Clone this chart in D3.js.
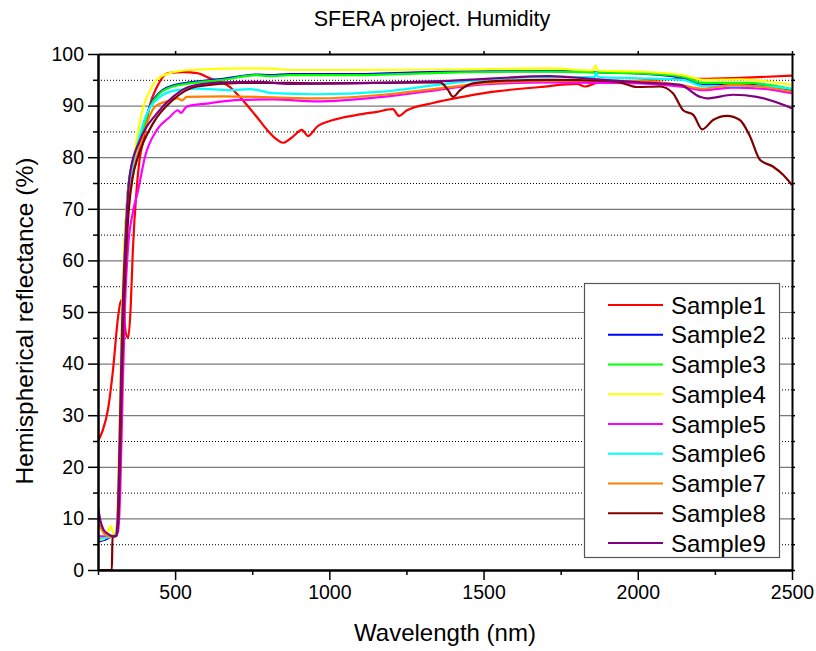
<!DOCTYPE html>
<html>
<head>
<meta charset="utf-8">
<script src="https://cdn.jsdelivr.net/npm/d3@7"></script>
<style>
  body { margin: 0; background: #fff; }
  svg { display: block; font-family: "Liberation Sans", Arial, sans-serif; }
</style>
</head>
<body>
<svg id="chart" width="816" height="651"></svg>
<script>
// ---- data (wavelength nm, reflectance %) ----
const seriesNames = ["Sample1", "Sample2", "Sample3", "Sample4", "Sample5", "Sample6", "Sample7", "Sample8", "Sample9"];
const seriesColors = ["#ff0000", "#0000ff", "#00ff00", "#ffff00", "#ff00ff", "#00ffff", "#ff8000", "#800000", "#800080"];

const sample1 = [[250,25],[265,27],[282,31],[299,39],[315,49],[325,52.3],[333,50],[340,46],[348,45],[356,51],[363,62],[375,73.6],[386,80],[396,83],[418,90],[441,93.6],[477,96.3],[526,96.5],[571,96.3],[613,95.3],[678,93.6],[720,91],[765,87.8],[798,85.3],[824,83.7],[850,82.8],[882,84],[911,85.3],[931,84.1],[960,85.9],[1012,87.2],[1090,88.2],[1154,88.8],[1206,89.3],[1226,88],[1252,89.1],[1336,90.5],[1433,91.7],[1521,92.6],[1683,93.6],[1803,94.2],[1829,93.7],[1868,94.4],[1942,94.6],[2137,95.2],[2224,95.2],[2386,95.5],[2500,95.8]];
const sample2 = [[250,5.5],[270,5.8],[290,6.4],[305,6.8],[313,9],[320,22],[328,45],[336,62],[345,72],[360,78.5],[386,83.5],[419,90],[451,92.6],[493,93.9],[548,94.5],[655,95.2],[765,96],[808,95.9],[872,96.1],[1067,96.1],[1391,96.6],[1715,96.7],[1900,96.4],[2062,96],[2147,95.3],[2212,94],[2354,94],[2500,93]];
const sample3 = [[250,6],[270,6.2],[290,6.6],[305,6.8],[313,9],[320,22],[328,45],[336,62],[345,72],[360,78.5],[386,83.3],[419,89.8],[451,92.4],[493,93.7],[548,94.3],[655,95],[765,95.9],[808,95.7],[872,95.9],[1067,95.9],[1391,96.4],[1715,96.6],[1900,96.4],[2062,96.1],[2147,95.6],[2212,94.4],[2354,94.4],[2500,93.2]];
const sample4 = [[250,5.8],[270,6],[283,7.5],[292,8.5],[300,7],[306,6.8],[312,10],[318,24],[326,47],[335,63],[345,72],[359,77],[375,83.3],[397,89.8],[419,93],[440,95],[483,96.3],[548,96.9],[710,97.2],[800,97.2],[872,96.9],[1067,96.9],[1391,97],[1715,97.2],[1855,96.8],[1862,97.8],[1870,96.8],[2007,96.6],[2147,95.9],[2212,95],[2331,95.1],[2500,94]];
const sample5 = [[250,6.5],[280,6.5],[305,6.6],[315,7.5],[322,15],[330,35],[338,52],[348,63],[362,69],[380,73.6],[402,80],[441,85.3],[483,87.8],[509,89.1],[519,88.6],[538,89.8],[603,90.4],[710,91.1],[817,91.2],[960,90.8],[1174,91.7],[1349,93],[1498,94.1],[1715,94.5],[1868,94.4],[2007,94.3],[2147,93.6],[2212,93],[2309,93.5],[2400,93.3],[2500,92.4]];
const sample6 = [[250,6],[280,6.3],[305,6.7],[313,9],[320,22],[328,44],[336,60],[345,70],[360,77],[397,86.6],[451,91.7],[506,93],[571,93.3],[678,93],[743,93.2],[817,92.4],[960,92.2],[1174,92.7],[1349,94],[1498,95],[1715,95.5],[1860,95.5],[1865,96.4],[1872,95.5],[2007,95.3],[2147,95],[2212,93.8],[2354,93.8],[2500,93.3]];
const sample7 = [[250,9.3],[265,7.5],[280,6.6],[300,6.4],[310,7],[316,12],[323,28],[331,48],[340,62],[350,71],[365,77],[390,83],[435,89.8],[483,91],[509,91.4],[522,91],[538,91.7],[655,91.8],[817,91.6],[960,91.4],[1174,92.1],[1349,93.3],[1498,94.3],[1715,94.8],[2007,94.8],[2137,94],[2212,93.3],[2309,94],[2396,93.7],[2500,92.7]];
const sample8 = [[250,0],[295,0],[297,6.5],[310,6.6],[316,10],[323,26],[331,46],[340,60],[350,70],[362,76],[380,80.1],[429,86.6],[493,91.1],[571,93.7],[710,94.4],[872,94.4],[960,94.3],[1174,94.4],[1359,94.5],[1385,93],[1401,91.7],[1424,93],[1466,94.3],[1553,94.8],[1715,95],[1900,94.8],[1942,94.5],[1997,93.6],[2072,93.7],[2114,92.4],[2147,89.1],[2180,88.2],[2209,85.4],[2244,87.2],[2289,88],[2331,87.2],[2364,84],[2396,79.5],[2438,78.2],[2471,76.6],[2500,74.6]];
const sample9 = [[250,12.2],[258,9.5],[268,7.8],[282,7],[300,6.5],[308,6.6],[313,9],[320,25],[328,47],[338,63],[354,76.9],[386,83.3],[441,88.5],[493,91.7],[548,93.7],[655,94.5],[765,94.6],[872,94.2],[1067,94.3],[1391,94.8],[1715,95.7],[1845,95.2],[2007,94.5],[2137,94],[2202,91.7],[2224,91.4],[2309,92.1],[2386,91.7],[2500,89.5]];
const allSamples = [sample1, sample2, sample3, sample4, sample5, sample6, sample7, sample8, sample9];

const xMajorTicks = [500, 1000, 1500, 2000, 2500];
const xMinorTicks = [250, 750, 1250, 1750, 2250];
const yMajorTicks = [0, 10, 20, 30, 40, 50, 60, 70, 80, 90, 100];
const yMinorTicks = [5, 15, 25, 35, 45, 55, 65, 75, 85, 95];

// ---- layout ----
const plotL = 98, plotR = 792, plotT = 54, plotB = 570;
const svg = d3.select("#chart");

const x = d3.scaleLinear().domain([250, 2500]).range([plotL, plotR]);
const y = d3.scaleLinear().domain([0, 100]).range([plotB, plotT]);

svg.append("defs").append("clipPath").attr("id", "plot-clip")
  .append("rect").attr("x", plotL).attr("y", plotT - 2)
  .attr("width", plotR - plotL).attr("height", plotB - plotT + 2);

// grid: solid at major, dotted at minor
svg.append("g").selectAll("line").data(yMajorTicks.filter(d => d > 0 && d < 100)).join("line")
  .attr("x1", plotL).attr("x2", plotR)
  .attr("y1", d => y(d) + 0.5).attr("y2", d => y(d) + 0.5)
  .attr("stroke", "#7a7a7a").attr("stroke-width", 1.2);
svg.append("g").selectAll("line").data(yMinorTicks).join("line")
  .attr("x1", plotL).attr("x2", plotR)
  .attr("y1", d => y(d) + 0.5).attr("y2", d => y(d) + 0.5)
  .attr("stroke", "#000").attr("stroke-width", 1)
  .attr("stroke-dasharray", "1,2");

// curves
const line = d3.line()
  .x(d => x(d[0]))
  .y(d => y(d[1]))
  .curve(d3.curveMonotoneX);

svg.append("g").attr("clip-path", "url(#plot-clip)")
  .selectAll("path").data(allSamples).join("path")
  .attr("d", line)
  .attr("fill", "none")
  .attr("stroke", (d, i) => seriesColors[i])
  .attr("stroke-width", 2.2)
  .attr("stroke-linejoin", "round");

// axes
function styleAxis(g, w) {
  g.select(".domain").attr("stroke", "#000").attr("stroke-width", 2);
  g.selectAll(".tick line").attr("stroke", "#000").attr("stroke-width", w);
  g.selectAll(".tick text").attr("fill", "#000")
    .style("font-family", "'Liberation Sans', Arial, sans-serif");
}

svg.append("g").attr("transform", `translate(0,${plotB})`)
  .call(d3.axisBottom(x).tickValues(xMinorTicks).tickSize(5).tickSizeOuter(0).tickFormat(""))
  .call(g => styleAxis(g, 1.5));
svg.append("g").attr("transform", `translate(0,${plotB})`)
  .call(d3.axisBottom(x).tickValues(xMajorTicks).tickSize(10).tickSizeOuter(0).tickPadding(5).tickFormat(d3.format("d")))
  .call(g => styleAxis(g, 1.5))
  .call(g => g.selectAll(".tick text").style("font-size", "19.5px"));

svg.append("g").attr("transform", `translate(${plotL},0)`)
  .call(d3.axisLeft(y).tickValues(yMinorTicks).tickSize(5).tickSizeOuter(0).tickFormat(""))
  .call(g => styleAxis(g, 1.5));
svg.append("g").attr("transform", `translate(${plotL},0)`)
  .call(d3.axisLeft(y).tickValues(yMajorTicks).tickSize(10).tickSizeOuter(0).tickPadding(4))
  .call(g => styleAxis(g, 1.5))
  .call(g => g.selectAll(".tick text").style("font-size", "19.5px"));

svg.append("g").attr("transform", `translate(0,${plotT})`)
  .call(d3.axisTop(x).tickValues(xMajorTicks).tickSize(3).tickSizeOuter(0).tickFormat(""))
  .call(g => styleAxis(g, 1.5));
svg.append("g").attr("transform", `translate(${plotR},0)`)
  .call(d3.axisRight(y).tickValues(yMinorTicks.concat(yMajorTicks)).tickSize(3).tickSizeOuter(0).tickFormat(""))
  .call(g => styleAxis(g, 1.5));

// titles
svg.append("text")
  .attr("x", 432).attr("y", 26)
  .attr("text-anchor", "middle")
  .style("font-size", "21.5px")
  .text("SFERA project. Humidity");

svg.append("text")
  .attr("x", 445).attr("y", 641)
  .attr("text-anchor", "middle")
  .style("font-size", "24px")
  .text("Wavelength (nm)");

svg.append("text")
  .attr("transform", "translate(33,321) rotate(-90)")
  .attr("text-anchor", "middle")
  .style("font-size", "24.5px")
  .text("Hemispherical reflectance (%)");

// legend
const legend = svg.append("g");
legend.append("rect")
  .attr("x", 584.5).attr("y", 283.5)
  .attr("width", 195).attr("height", 274)
  .attr("fill", "#fff").attr("stroke", "#555").attr("stroke-width", 1.2);

const rows = legend.selectAll("g.row").data(seriesNames).join("g")
  .attr("class", "row")
  .attr("transform", (d, i) => `translate(0,${305 + i * 29.75})`);
rows.append("line")
  .attr("x1", 608).attr("x2", 663)
  .attr("stroke", (d, i) => seriesColors[i])
  .attr("stroke-width", 2.2);
rows.append("text")
  .attr("x", 671).attr("y", 8.5)
  .style("font-size", "24px")
  .text(d => d);
</script>
</body>
</html>
